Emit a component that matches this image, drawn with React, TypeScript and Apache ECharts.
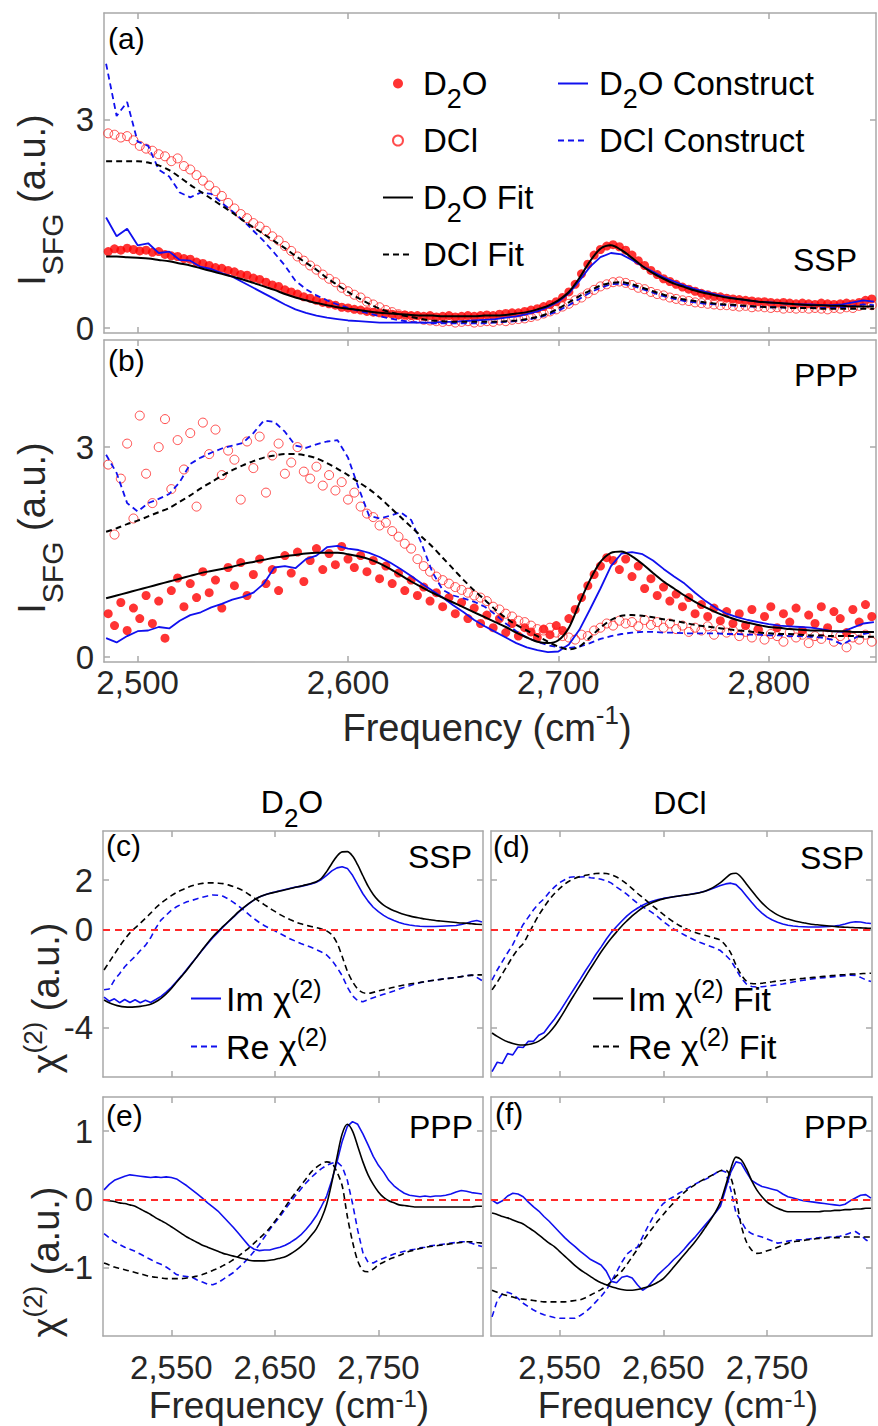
import React, { useEffect, useRef } from 'react';
import * as echarts from 'echarts';

// ---------- data ----------
const FREQ = [
  2485, 2490, 2495, 2500, 2505, 2510, 2515, 2520, 2525, 2530,
  2535, 2540, 2545, 2550, 2555, 2560, 2565, 2570, 2575, 2580,
  2585, 2590, 2595, 2600, 2605, 2610, 2615, 2620, 2625, 2630,
  2635, 2640, 2645, 2650, 2655, 2660, 2665, 2670, 2675, 2680,
  2685, 2690, 2695, 2700, 2705, 2710, 2715, 2720, 2725, 2730,
  2735, 2740, 2745, 2750, 2755, 2760, 2765, 2770, 2775, 2780,
  2785, 2790, 2795, 2800, 2805, 2810, 2815, 2820, 2825, 2830,
  2835, 2840, 2845, 2850,
];

const FREQ_PTS = [
  2486, 2489, 2492, 2495, 2498, 2501, 2504, 2507, 2510, 2513,
  2516, 2519, 2522, 2525, 2528, 2531, 2534, 2537, 2540, 2543,
  2546, 2549, 2552, 2555, 2558, 2561, 2564, 2567, 2570, 2573,
  2576, 2579, 2582, 2585, 2588, 2591, 2594, 2597, 2600, 2603,
  2606, 2609, 2612, 2615, 2618, 2621, 2624, 2627, 2630, 2633,
  2636, 2639, 2642, 2645, 2648, 2651, 2654, 2657, 2660, 2663,
  2666, 2669, 2672, 2675, 2678, 2681, 2684, 2687, 2690, 2693,
  2696, 2699, 2702, 2705, 2708, 2711, 2714, 2717, 2720, 2723,
  2726, 2729, 2732, 2735, 2738, 2741, 2744, 2747, 2750, 2753,
  2756, 2759, 2762, 2765, 2768, 2771, 2774, 2777, 2780, 2783,
  2786, 2789, 2792, 2795, 2798, 2801, 2804, 2807, 2810, 2813,
  2816, 2819, 2822, 2825, 2828, 2831, 2834, 2837, 2840, 2843,
  2846, 2849,
];

// (a) SSP intensity
const A_D2O_PTS = [
  1.10, 1.14, 1.12, 1.15, 1.13, 1.11, 1.12, 1.09, 1.10, 1.06,
  1.04, 1.03, 1.00, 0.99, 0.95, 0.93, 0.90, 0.87, 0.86, 0.83,
  0.81, 0.77, 0.76, 0.72, 0.70, 0.66, 0.62, 0.60, 0.55, 0.52,
  0.49, 0.45, 0.43, 0.40, 0.37, 0.35, 0.33, 0.30, 0.29, 0.27,
  0.26, 0.24, 0.23, 0.22, 0.21, 0.20, 0.19, 0.19, 0.18, 0.18,
  0.17, 0.18, 0.16, 0.17, 0.18, 0.16, 0.17, 0.18, 0.17, 0.18,
  0.19, 0.18, 0.20, 0.21, 0.22, 0.22, 0.24, 0.26, 0.28, 0.31,
  0.34, 0.38, 0.44, 0.52, 0.63, 0.78, 0.92, 1.05, 1.13, 1.18,
  1.20, 1.17, 1.12, 1.05, 0.97, 0.90, 0.83, 0.77, 0.71, 0.67,
  0.63, 0.59, 0.56, 0.53, 0.50, 0.48, 0.46, 0.45, 0.43, 0.42,
  0.41, 0.40, 0.39, 0.38, 0.38, 0.37, 0.36, 0.37, 0.36, 0.35,
  0.36, 0.35, 0.34, 0.36, 0.35, 0.34, 0.35, 0.36, 0.35, 0.37,
  0.40, 0.42,
];
const A_DCL_PTS = [
  2.80, 2.78, 2.74, 2.76, 2.70, 2.62, 2.58, 2.55, 2.50, 2.47,
  2.40, 2.44, 2.33, 2.28, 2.20, 2.12, 2.05, 1.97, 1.90, 1.80,
  1.72, 1.64, 1.58, 1.51, 1.46, 1.40, 1.32, 1.26, 1.18, 1.11,
  1.03, 0.97, 0.90, 0.84, 0.77, 0.71, 0.66, 0.58, 0.53, 0.48,
  0.44, 0.38, 0.34, 0.30, 0.26, 0.23, 0.20, 0.18, 0.16, 0.14,
  0.12, 0.11, 0.10, 0.09, 0.10, 0.08, 0.09, 0.10, 0.08, 0.09,
  0.10, 0.09, 0.11, 0.10, 0.12, 0.13, 0.14, 0.16, 0.18, 0.21,
  0.24, 0.27, 0.31, 0.35, 0.40, 0.44, 0.50, 0.55, 0.60, 0.63,
  0.66, 0.67, 0.65, 0.62, 0.58, 0.56, 0.52, 0.49, 0.47, 0.44,
  0.42, 0.40, 0.39, 0.37, 0.36, 0.35, 0.34, 0.33, 0.33, 0.32,
  0.31, 0.32, 0.30, 0.31, 0.30, 0.29, 0.30, 0.28, 0.29, 0.28,
  0.29, 0.28, 0.29, 0.28, 0.27, 0.29, 0.28, 0.30, 0.29, 0.32,
  0.35, 0.33,
];
const A_D2O_FIT = [
  1.03, 1.03, 1.02, 1.01, 1.00, 0.98, 0.96, 0.93, 0.90, 0.86,
  0.82, 0.78, 0.74, 0.70, 0.65, 0.60, 0.55, 0.49, 0.44, 0.40,
  0.36, 0.33, 0.30, 0.28, 0.26, 0.24, 0.22, 0.21, 0.20, 0.19,
  0.18, 0.18, 0.17, 0.17, 0.17, 0.17, 0.18, 0.18, 0.19, 0.21,
  0.23, 0.27, 0.32, 0.40, 0.52, 0.72, 0.96, 1.14, 1.19, 1.12,
  1.01, 0.89, 0.79, 0.71, 0.64, 0.59, 0.54, 0.50, 0.47, 0.44,
  0.42, 0.40, 0.38, 0.37, 0.36, 0.35, 0.34, 0.33, 0.33, 0.32,
  0.32, 0.31, 0.31, 0.31,
];
const A_DCL_FIT = [
  2.40, 2.40, 2.40, 2.40, 2.38, 2.34, 2.27, 2.17, 2.06, 1.96,
  1.86, 1.76, 1.66, 1.55, 1.45, 1.35, 1.25, 1.15, 1.04, 0.94,
  0.84, 0.72, 0.62, 0.52, 0.43, 0.35, 0.28, 0.23, 0.19, 0.16,
  0.13, 0.11, 0.10, 0.09, 0.09, 0.09, 0.09, 0.09, 0.10, 0.11,
  0.13, 0.16, 0.21, 0.28, 0.37, 0.46, 0.54, 0.61, 0.65, 0.66,
  0.63, 0.58, 0.53, 0.48, 0.44, 0.41, 0.39, 0.37, 0.35, 0.34,
  0.33, 0.32, 0.31, 0.30, 0.30, 0.29, 0.29, 0.29, 0.28, 0.28,
  0.28, 0.28, 0.28, 0.28,
];
const A_D2O_CON = [
  1.59, 1.32, 1.43, 1.19, 1.22, 1.08, 1.10, 0.98, 0.97, 0.88,
  0.85, 0.79, 0.74, 0.66, 0.58, 0.50, 0.42, 0.34, 0.27, 0.22,
  0.18, 0.15, 0.13, 0.11, 0.10, 0.09, 0.08, 0.08, 0.08, 0.08,
  0.08, 0.08, 0.09, 0.09, 0.10, 0.11, 0.12, 0.13, 0.15, 0.17,
  0.20, 0.24, 0.30, 0.38, 0.50, 0.68, 0.88, 1.02, 1.08, 1.06,
  0.98, 0.89, 0.81, 0.73, 0.67, 0.61, 0.56, 0.52, 0.48, 0.45,
  0.42, 0.40, 0.38, 0.37, 0.36, 0.35, 0.34, 0.34, 0.33, 0.33,
  0.34, 0.37, 0.40, 0.38,
];
const A_DCL_CON = [
  3.80, 3.05, 3.25, 2.68, 2.62, 2.28, 2.18, 1.95, 1.88, 1.95,
  1.93, 1.80, 1.68, 1.55, 1.40, 1.25, 1.08, 0.90, 0.68, 0.56,
  0.47, 0.40, 0.34, 0.29, 0.25, 0.21, 0.17, 0.14, 0.11, 0.09,
  0.08, 0.07, 0.07, 0.07, 0.07, 0.07, 0.07, 0.08, 0.09, 0.10,
  0.12, 0.15, 0.19, 0.25, 0.33, 0.42, 0.51, 0.58, 0.63, 0.64,
  0.61, 0.56, 0.51, 0.46, 0.42, 0.39, 0.37, 0.35, 0.34, 0.33,
  0.32, 0.31, 0.31, 0.30, 0.30, 0.29, 0.29, 0.29, 0.29, 0.29,
  0.30, 0.32, 0.34, 0.33,
];

// (b) PPP intensity
const B_D2O_PTS = [
  0.62, 0.45, 0.78, 0.38, 0.70, 0.55, 0.88, 0.48, 0.80, 0.27,
  0.95, 1.13, 0.72, 1.05, 0.85, 1.22, 0.92, 1.10, 0.70, 1.28,
  1.02, 1.35, 0.88, 1.18, 1.40, 1.05, 1.25, 0.95, 1.45, 1.20,
  1.50, 1.08, 1.38, 1.55, 1.25, 1.48, 1.32, 1.58, 1.40, 1.28,
  1.45, 1.22, 1.38, 1.12, 1.30, 1.05, 1.20, 0.95, 1.10, 0.88,
  1.00, 0.80, 0.92, 0.72, 0.85, 0.62, 0.78, 0.55, 0.70, 0.48,
  0.60, 0.42, 0.55, 0.35, 0.48, 0.30, 0.42, 0.36, 0.28, 0.40,
  0.32, 0.45, 0.38, 0.55, 0.68, 0.85, 1.02, 1.18, 1.30, 1.42,
  1.38, 1.25, 1.40, 1.15, 1.30, 0.98, 1.12, 0.88, 1.00, 0.80,
  0.90, 0.72, 0.85, 0.62, 0.75, 0.58, 0.70, 0.52, 0.65, 0.48,
  0.62, 0.45, 0.68, 0.40, 0.58, 0.72, 0.42, 0.62, 0.50, 0.70,
  0.38, 0.60, 0.48, 0.72, 0.42, 0.65, 0.55, 0.35, 0.68, 0.50,
  0.75, 0.58,
];
const B_DCL_PTS = [
  2.75, 1.75, 2.55, 3.05, 1.98, 3.45, 2.62, 2.20, 3.00, 3.40,
  2.40, 3.10, 2.68, 3.20, 2.15, 3.35, 2.90, 3.25, 2.60, 2.95,
  2.82, 2.25, 3.08, 2.70, 3.15, 2.35, 2.88, 3.05, 2.62, 2.78,
  3.00, 2.65, 2.55, 2.72, 2.45, 2.60, 2.38, 2.50, 2.25, 2.35,
  2.15, 2.05, 2.00, 1.88, 1.92, 1.80, 1.72, 1.62, 1.55, 1.40,
  1.30, 1.22, 1.15, 1.10, 1.05, 1.00, 0.96, 0.92, 0.88, 0.85,
  0.80, 0.72, 0.68, 0.62, 0.58, 0.52, 0.50, 0.45, 0.40, 0.38,
  0.42, 0.35, 0.30, 0.28, 0.25, 0.32, 0.30, 0.38, 0.42, 0.48,
  0.45, 0.52, 0.48, 0.50, 0.44, 0.53, 0.46, 0.50, 0.42, 0.48,
  0.40, 0.45, 0.36, 0.42, 0.38, 0.44, 0.32, 0.40, 0.35, 0.38,
  0.30, 0.36, 0.28, 0.38, 0.25, 0.33, 0.30, 0.22, 0.35, 0.28,
  0.32, 0.20, 0.30, 0.26, 0.35, 0.22, 0.30, 0.14, 0.28, 0.25,
  0.32, 0.22,
];
const B_D2O_FIT = [
  0.84, 0.88, 0.92, 0.96, 1.00, 1.04, 1.08, 1.12, 1.16, 1.20,
  1.23, 1.26, 1.29, 1.33, 1.36, 1.39, 1.42, 1.44, 1.46, 1.48,
  1.49, 1.49, 1.49, 1.47, 1.44, 1.40, 1.34, 1.26, 1.17, 1.08,
  1.00, 0.92, 0.85, 0.78, 0.71, 0.64, 0.57, 0.50, 0.43, 0.35,
  0.28, 0.22, 0.20, 0.24, 0.42, 0.77, 1.10, 1.36, 1.49, 1.51,
  1.44, 1.33, 1.20, 1.08, 0.98, 0.88, 0.79, 0.71, 0.64, 0.58,
  0.53, 0.49, 0.46, 0.43, 0.42, 0.40, 0.39, 0.38, 0.38, 0.37,
  0.37, 0.36, 0.36, 0.36,
];
const B_DCL_FIT = [
  1.79, 1.84, 1.90, 1.95, 2.01, 2.07, 2.13, 2.22, 2.31, 2.41,
  2.50, 2.59, 2.67, 2.74, 2.80, 2.85, 2.88, 2.90, 2.90, 2.88,
  2.84, 2.77, 2.69, 2.60, 2.50, 2.40, 2.28, 2.14, 2.00, 1.86,
  1.72, 1.58, 1.42, 1.26, 1.10, 0.95, 0.82, 0.68, 0.56, 0.46,
  0.38, 0.30, 0.22, 0.15, 0.11, 0.15, 0.28, 0.42, 0.53, 0.59,
  0.60, 0.59, 0.57, 0.54, 0.52, 0.49, 0.46, 0.44, 0.42, 0.40,
  0.38, 0.37, 0.35, 0.34, 0.33, 0.33, 0.32, 0.31, 0.31, 0.30,
  0.30, 0.30, 0.29, 0.29,
];
const B_D2O_CON = [
  0.27, 0.21, 0.30, 0.37, 0.38, 0.43, 0.41, 0.52, 0.60, 0.64,
  0.71, 0.76, 0.82, 0.86, 0.92, 1.05, 1.28, 1.30, 1.27, 1.40,
  1.45, 1.57, 1.59, 1.55, 1.53, 1.49, 1.43, 1.35, 1.26, 1.16,
  1.05, 0.95, 0.85, 0.74, 0.64, 0.53, 0.44, 0.36, 0.28, 0.20,
  0.14, 0.10, 0.07, 0.08, 0.18, 0.39, 0.68, 0.98, 1.30, 1.48,
  1.50, 1.47, 1.38, 1.26, 1.15, 1.05, 0.92, 0.80, 0.70, 0.62,
  0.57, 0.53, 0.50, 0.47, 0.45, 0.44, 0.43, 0.42, 0.40, 0.37,
  0.36, 0.42, 0.48, 0.50,
];
const B_DCL_CON = [
  2.89, 2.63, 2.20, 2.08, 2.20, 2.26, 2.33, 2.50, 2.76, 2.85,
  2.92, 2.98, 3.02, 3.06, 3.20, 3.38, 3.36, 3.22, 3.02, 2.99,
  3.04, 3.08, 3.10, 2.85, 2.42, 2.02, 1.98, 2.02, 2.07, 1.96,
  1.62, 1.22, 0.96, 0.88, 0.84, 0.79, 0.72, 0.61, 0.48, 0.37,
  0.28, 0.22, 0.17, 0.14, 0.13, 0.15, 0.20, 0.26, 0.30, 0.33,
  0.35, 0.36, 0.36, 0.35, 0.35, 0.34, 0.34, 0.34, 0.34, 0.33,
  0.33, 0.32, 0.32, 0.31, 0.31, 0.30, 0.30, 0.29, 0.28, 0.25,
  0.18, 0.26, 0.33, 0.36,
];

// (c) D2O SSP chi(2)
const C_IM = [
  -2.75, -2.92, -2.82, -2.98, -2.85, -2.97, -2.86, -2.98, -2.88, -2.97,
  -2.85, -2.72, -2.55, -2.35, -2.12, -1.88, -1.62, -1.36, -1.10, -0.84,
  -0.58, -0.34, -0.12, 0.10, 0.30, 0.50, 0.70, 0.88, 1.05, 1.20,
  1.32, 1.40, 1.47, 1.52, 1.57, 1.62, 1.67, 1.72, 1.75, 1.80,
  1.85, 1.92, 2.03, 2.20, 2.38, 2.50, 2.55, 2.48, 2.20, 1.82,
  1.45, 1.15, 0.90, 0.72, 0.57, 0.45, 0.36, 0.28, 0.22, 0.18,
  0.15, 0.13, 0.12, 0.12, 0.12, 0.13, 0.14, 0.15, 0.16, 0.20,
  0.25, 0.32, 0.36, 0.30,
];
const C_RE = [
  -2.45, -2.42, -2.06, -1.80, -1.52, -1.30, -1.10, -0.86, -0.65, -0.34,
  0.05, 0.38, 0.58, 0.78, 0.92, 1.03, 1.12, 1.18, 1.25, 1.31,
  1.36, 1.40, 1.39, 1.35, 1.24, 1.10, 0.95, 0.78, 0.60, 0.43,
  0.28, 0.15, 0.04, -0.06, -0.17, -0.28, -0.39, -0.48, -0.57, -0.65,
  -0.73, -0.82, -0.92, -1.04, -1.25, -1.55, -1.88, -2.35, -2.70, -2.90,
  -2.94, -2.86, -2.78, -2.71, -2.64, -2.57, -2.50, -2.42, -2.35, -2.29,
  -2.22, -2.17, -2.12, -2.09, -2.06, -2.03, -2.00, -1.98, -1.95, -1.92,
  -1.88, -1.86, -1.95, -2.08,
];
const C_IM_FIT = [
  -2.87, -2.98, -3.06, -3.12, -3.15, -3.16, -3.15, -3.13, -3.09, -3.04,
  -2.94, -2.80, -2.62, -2.40, -2.15, -1.90, -1.65, -1.38, -1.10, -0.82,
  -0.55, -0.30, -0.08, 0.12, 0.32, 0.52, 0.72, 0.90, 1.06, 1.20,
  1.32, 1.40, 1.46, 1.51, 1.56, 1.61, 1.66, 1.71, 1.76, 1.81,
  1.87, 1.94, 2.08, 2.35, 2.68, 2.98, 3.15, 3.16, 2.98, 2.62,
  2.18, 1.76, 1.42, 1.17, 0.99, 0.86, 0.76, 0.68, 0.61, 0.55,
  0.50, 0.46, 0.42, 0.39, 0.36, 0.34, 0.32, 0.30, 0.28, 0.26,
  0.25, 0.23, 0.21, 0.20,
];
const C_RE_FIT = [
  -1.65, -1.33, -1.01, -0.69, -0.40, -0.14, 0.06, 0.25, 0.45, 0.66,
  0.88, 1.06, 1.22, 1.37, 1.50, 1.60, 1.69, 1.77, 1.83, 1.87,
  1.89, 1.89, 1.88, 1.86, 1.81, 1.74, 1.66, 1.56, 1.42, 1.28,
  1.14, 1.00, 0.86, 0.73, 0.60, 0.49, 0.39, 0.30, 0.23, 0.17,
  0.12, 0.07, 0.02, -0.06, -0.22, -0.55, -1.10, -1.70, -2.12, -2.42,
  -2.57, -2.60, -2.56, -2.50, -2.45, -2.40, -2.35, -2.30, -2.26, -2.22,
  -2.19, -2.16, -2.12, -2.09, -2.06, -2.03, -2.00, -1.98, -1.95, -1.92,
  -1.89, -1.86, -1.85, -1.85,
];

// (d) DCl SSP chi(2)
const D_IM = [
  -5.78, -5.40, -5.45, -5.05, -5.10, -4.78, -4.80, -4.55, -4.55, -4.30,
  -4.20, -3.92, -3.65, -3.35, -3.02, -2.68, -2.35, -2.02, -1.68, -1.36,
  -1.02, -0.72, -0.40, -0.12, 0.12, 0.34, 0.55, 0.72, 0.86, 0.98,
  1.08, 1.15, 1.21, 1.26, 1.30, 1.33, 1.36, 1.39, 1.42, 1.46,
  1.50, 1.55, 1.62, 1.70, 1.78, 1.85, 1.88, 1.82, 1.62, 1.36,
  1.10, 0.86, 0.66, 0.50, 0.38, 0.29, 0.22, 0.17, 0.14, 0.12,
  0.11, 0.10, 0.10, 0.10, 0.11, 0.12, 0.14, 0.17, 0.22, 0.28,
  0.31, 0.30, 0.26, 0.24,
];
const D_RE = [
  -2.06, -1.65, -1.30, -0.95, -0.62, -0.18, 0.20, 0.50, 0.80, 1.05,
  1.24, 1.50, 1.72, 1.90, 2.02, 2.12, 2.14, 2.13, 2.14, 2.10,
  2.08, 2.04, 1.98, 1.88, 1.72, 1.58, 1.42, 1.24, 1.07, 0.92,
  0.80, 0.66, 0.50, 0.32, 0.16, 0.02, -0.10, -0.22, -0.33, -0.43,
  -0.52, -0.60, -0.68, -0.76, -0.86, -1.05, -1.26, -1.62, -1.98, -2.22,
  -2.32, -2.34, -2.33, -2.31, -2.28, -2.25, -2.22, -2.18, -2.14, -2.10,
  -2.07, -2.03, -2.00, -1.98, -1.96, -1.94, -1.92, -1.90, -1.88, -1.86,
  -1.87, -1.95, -2.05, -2.12,
];
const D_IM_FIT = [
  -4.21, -4.35, -4.47, -4.57, -4.64, -4.69, -4.70, -4.68, -4.63, -4.54,
  -4.40, -4.20, -3.95, -3.64, -3.30, -2.94, -2.60, -2.26, -1.92, -1.58,
  -1.25, -0.92, -0.62, -0.35, -0.10, 0.14, 0.35, 0.55, 0.72, 0.88,
  1.00, 1.10, 1.18, 1.24, 1.29, 1.33, 1.36, 1.39, 1.42, 1.45,
  1.49, 1.55, 1.64, 1.76, 1.90, 2.08, 2.25, 2.28, 2.12, 1.85,
  1.58, 1.32, 1.08, 0.88, 0.72, 0.59, 0.49, 0.42, 0.36, 0.31,
  0.27, 0.23, 0.20, 0.18, 0.16, 0.14, 0.12, 0.10, 0.09, 0.08,
  0.07, 0.06, 0.05, 0.04,
];
const D_RE_FIT = [
  -2.46, -2.15, -1.80, -1.45, -1.10, -0.80, -0.58, -0.20, 0.20, 0.58,
  0.90, 1.20, 1.45, 1.66, 1.84, 1.98, 2.08, 2.15, 2.20, 2.24,
  2.27, 2.28, 2.27, 2.22, 2.13, 2.00, 1.84, 1.66, 1.47, 1.30,
  1.12, 0.95, 0.78, 0.61, 0.45, 0.30, 0.17, 0.06, -0.04, -0.11,
  -0.18, -0.24, -0.30, -0.36, -0.44, -0.65, -0.96, -1.45, -1.84, -2.10,
  -2.20, -2.21, -2.19, -2.16, -2.13, -2.10, -2.08, -2.06, -2.04, -2.01,
  -1.99, -1.97, -1.95, -1.93, -1.91, -1.89, -1.87, -1.85, -1.84, -1.82,
  -1.81, -1.80, -1.79, -1.78,
];

// (e) D2O PPP chi(2)
const E_IM = [
  0.14, 0.22, 0.28, 0.31, 0.34, 0.36, 0.35, 0.34, 0.33, 0.32,
  0.33, 0.32, 0.33, 0.32, 0.30, 0.25, 0.20, 0.14, 0.08, 0.02,
  -0.05, -0.11, -0.17, -0.25, -0.33, -0.41, -0.50, -0.59, -0.68, -0.73,
  -0.75, -0.74, -0.74, -0.72, -0.70, -0.67, -0.63, -0.58, -0.52, -0.44,
  -0.35, -0.24, -0.10, 0.05, 0.28, 0.55, 0.85, 1.07, 1.14, 1.10,
  0.96, 0.80, 0.63, 0.50, 0.40, 0.28, 0.20, 0.14, 0.09, 0.06,
  0.05, 0.04, 0.05, 0.04, 0.05, 0.05, 0.06, 0.08, 0.11, 0.13,
  0.12, 0.10, 0.09, 0.08,
];
const E_RE = [
  -0.50, -0.56, -0.62, -0.66, -0.70, -0.73, -0.76, -0.80, -0.84, -0.88,
  -0.92, -0.95, -0.99, -1.04, -1.10, -1.12, -1.13, -1.14, -1.18, -1.21,
  -1.24, -1.25, -1.22, -1.17, -1.12, -1.07, -1.00, -0.93, -0.85, -0.76,
  -0.66, -0.55, -0.44, -0.34, -0.25, -0.14, -0.04, 0.06, 0.15, 0.24,
  0.32, 0.39, 0.45, 0.50, 0.53, 0.55, 0.48, 0.28, -0.06, -0.45,
  -0.78, -0.92, -0.93, -0.89, -0.86, -0.83, -0.80, -0.78, -0.76, -0.74,
  -0.73, -0.71, -0.70, -0.68, -0.67, -0.66, -0.65, -0.64, -0.63, -0.62,
  -0.62, -0.64, -0.67, -0.69,
];
const E_IM_FIT = [
  -0.01, -0.02, -0.03, -0.05, -0.06, -0.08, -0.10, -0.14, -0.18, -0.22,
  -0.27, -0.31, -0.35, -0.40, -0.45, -0.50, -0.55, -0.59, -0.63, -0.67,
  -0.70, -0.73, -0.76, -0.79, -0.81, -0.83, -0.85, -0.87, -0.89, -0.90,
  -0.90, -0.90, -0.89, -0.88, -0.86, -0.84, -0.80, -0.75, -0.69, -0.62,
  -0.53, -0.43, -0.28, -0.07, 0.25, 0.62, 0.96, 1.10, 1.00, 0.78,
  0.55, 0.36, 0.22, 0.11, 0.03, -0.02, -0.05, -0.08, -0.09, -0.10,
  -0.11, -0.11, -0.11, -0.11, -0.11, -0.11, -0.11, -0.11, -0.11, -0.11,
  -0.11, -0.11, -0.10, -0.10,
];
const E_RE_FIT = [
  -0.93, -0.96, -0.99, -1.01, -1.03, -1.05, -1.07, -1.09, -1.11, -1.13,
  -1.14, -1.15, -1.16, -1.16, -1.16, -1.16, -1.15, -1.14, -1.12, -1.10,
  -1.07, -1.04, -1.01, -0.97, -0.93, -0.88, -0.83, -0.77, -0.71, -0.64,
  -0.57, -0.50, -0.42, -0.32, -0.22, -0.11, 0.00, 0.10, 0.20, 0.30,
  0.40, 0.47, 0.52, 0.55, 0.53, 0.40, 0.20, -0.25, -0.62, -0.90,
  -1.04, -1.06, -1.02, -0.96, -0.92, -0.88, -0.85, -0.82, -0.79, -0.76,
  -0.74, -0.72, -0.70, -0.69, -0.68, -0.67, -0.66, -0.65, -0.64, -0.63,
  -0.62, -0.62, -0.63, -0.64,
];

// (f) DCl PPP chi(2)
const F_IM = [
  -0.01, -0.06, -0.02, 0.05, 0.09, 0.08, 0.04, -0.04, -0.11, -0.17,
  -0.25, -0.32, -0.40, -0.48, -0.56, -0.63, -0.69, -0.76, -0.82, -0.88,
  -0.92, -0.96, -1.05, -1.20, -1.22, -1.14, -1.12, -1.15, -1.25, -1.33,
  -1.28, -1.19, -1.10, -1.03, -0.96, -0.88, -0.81, -0.73, -0.64, -0.56,
  -0.47, -0.38, -0.29, -0.20, -0.10, 0.15, 0.40, 0.55, 0.53, 0.40,
  0.28, 0.23, 0.19, 0.17, 0.15, 0.13, 0.08, 0.04, 0.02, 0.00,
  -0.02, -0.03, -0.04, -0.05, -0.06, -0.07, -0.08, -0.09, -0.07, -0.02,
  0.02, 0.06, 0.07, 0.02,
];
const F_RE = [
  -1.72, -1.48, -1.38, -1.36, -1.39, -1.45, -1.52, -1.57, -1.62, -1.66,
  -1.69, -1.71, -1.73, -1.74, -1.74, -1.74, -1.74, -1.70, -1.65, -1.58,
  -1.50, -1.42, -1.33, -1.20, -1.06, -0.92, -0.80, -0.74, -0.70, -0.55,
  -0.40, -0.26, -0.15, -0.06, 0.00, 0.04, 0.09, 0.13, 0.18, 0.22,
  0.26, 0.29, 0.33, 0.38, 0.43, 0.40, 0.14, -0.20, -0.32, -0.45,
  -0.50, -0.53, -0.55, -0.58, -0.61, -0.64, -0.63, -0.61, -0.60, -0.59,
  -0.59, -0.58, -0.57, -0.56, -0.56, -0.55, -0.55, -0.54, -0.52, -0.49,
  -0.47, -0.52, -0.59, -0.64,
];
const F_IM_FIT = [
  -0.20, -0.22, -0.25, -0.27, -0.30, -0.33, -0.36, -0.41, -0.46, -0.52,
  -0.58, -0.64, -0.69, -0.76, -0.83, -0.90, -0.97, -1.03, -1.08, -1.13,
  -1.18, -1.22, -1.25, -1.28, -1.30, -1.32, -1.33, -1.33, -1.32, -1.30,
  -1.28, -1.25, -1.21, -1.16, -1.08, -0.99, -0.90, -0.81, -0.72, -0.63,
  -0.53, -0.42, -0.31, -0.19, -0.04, 0.20, 0.45, 0.62, 0.58, 0.45,
  0.28, 0.14, 0.04, -0.04, -0.09, -0.13, -0.16, -0.18, -0.18, -0.18,
  -0.18, -0.18, -0.18, -0.18, -0.17, -0.17, -0.16, -0.16, -0.15, -0.15,
  -0.14, -0.14, -0.13, -0.13,
];
const F_RE_FIT = [
  -1.33, -1.36, -1.39, -1.41, -1.43, -1.45, -1.46, -1.47, -1.48, -1.49,
  -1.50, -1.50, -1.50, -1.50, -1.50, -1.49, -1.48, -1.47, -1.44, -1.40,
  -1.36, -1.32, -1.27, -1.20, -1.12, -1.05, -0.95, -0.84, -0.73, -0.62,
  -0.51, -0.41, -0.31, -0.22, -0.13, -0.05, 0.03, 0.10, 0.16, 0.21,
  0.26, 0.30, 0.34, 0.38, 0.42, 0.43, 0.32, 0.02, -0.38, -0.62,
  -0.74, -0.79, -0.78, -0.75, -0.73, -0.70, -0.67, -0.64, -0.62, -0.61,
  -0.60, -0.59, -0.58, -0.57, -0.57, -0.56, -0.56, -0.56, -0.55, -0.55,
  -0.55, -0.55, -0.55, -0.55,
];

// ticks
const X_TICKS_TOP = [2500, 2600, 2700, 2800];
const X_TICKS_BOTTOM = [2550, 2650, 2750];
const Y_TICKS_I = [0, 3];
const Y_TICKS_SSP = [-4, 0, 2];
const Y_TICKS_PPP = [-1, 0, 1];

// ---------- styling ----------
const FONT = '"Liberation Sans", Arial, Helvetica, sans-serif';
const BOX = '#a8a8a8';
const TXT = '#262626';
const RED = '#ff0000';
const BLUE = '#1010ee';
const BLACK = '#000000';
const X_MIN = 2484;
const X_MAX = 2851;

const pair = (xs: number[], ys: number[]) => xs.map((x, i) => [x, ys[i]]);
const thousands = (v: number) => {
  const s = String(Math.round(v));
  return s.length > 3 ? s.slice(0, s.length - 3) + ',' + s.slice(-3) : s;
};

const GRIDS = [
  { left: 104, top: 13, width: 772, height: 320 },
  { left: 104, top: 340, width: 772, height: 322 },
  { left: 103, top: 831, width: 380, height: 246 },
  { left: 491, top: 831, width: 381, height: 246 },
  { left: 103, top: 1097, width: 380, height: 239 },
  { left: 491, top: 1097, width: 381, height: 239 },
];

const axisLineStyle = { show: true, onZero: false, lineStyle: { color: BOX, width: 1.5 } };
const tickStyle = (vals: number[]) => ({ show: true, inside: true, length: 6, customValues: vals, lineStyle: { color: BOX, width: 1.5 } });

function xAxesFor(g: number, ticks: number[], labels: boolean, margin: number, lineHeight?: number) {
  const base = { type: 'value', gridIndex: g, min: X_MIN, max: X_MAX, splitLine: { show: false }, axisLine: axisLineStyle, axisTick: tickStyle(ticks) };
  const label: any = { show: labels, customValues: ticks, formatter: thousands, fontSize: 33, color: TXT, fontFamily: FONT, margin };
  if (lineHeight) label.lineHeight = lineHeight;
  return [
    { ...base, position: 'bottom', axisLabel: label },
    { ...base, position: 'top', axisLabel: { show: false } },
  ];
}
function yAxesFor(g: number, min: number, max: number, ticks: number[], labels: boolean) {
  const base = { type: 'value', gridIndex: g, min, max, splitLine: { show: false }, axisLine: axisLineStyle, axisTick: tickStyle(ticks) };
  return [
    { ...base, position: 'left', axisLabel: { show: labels, customValues: ticks, fontSize: 33, color: TXT, fontFamily: FONT, margin: 10 } },
    { ...base, position: 'right', axisLabel: { show: false } },
  ];
}

const lineS = (name: string, g: number, ys: number[], color: string, dashed: boolean, width: number, smooth = 0) => ({
  type: 'line', name, xAxisIndex: 2 * g, yAxisIndex: 2 * g, data: pair(FREQ, ys),
  symbol: 'none', showSymbol: false, smooth, silent: true,
  lineStyle: { color, width, type: dashed ? [6, 4] : 'solid' }, itemStyle: { color }, z: 3,
});
const zeroLine = {
  silent: true, symbol: ['none', 'none'], label: { show: false },
  lineStyle: { color: '#ff2a2a', type: [7, 5], width: 2 }, data: [{ yAxis: 0 }],
};
const ptsS = (name: string, g: number, ys: number[], filled: boolean) => ({
  type: 'scatter', name, xAxisIndex: 2 * g, yAxisIndex: 2 * g, data: pair(FREQ_PTS, ys),
  symbol: 'circle', symbolSize: 9, silent: true, z: 2,
  itemStyle: filled ? { color: RED } : { color: 'rgba(255,255,255,0)', borderColor: '#ff2020', borderWidth: 1 },
});
const chiPanel = (g: number, im: number[], re: number[], imFit: number[], reFit: number[]) => [
  lineS('Im χ(2)', g, im, BLUE, false, 1.6),
  lineS('Re χ(2)', g, re, BLUE, true, 1.6),
  lineS('Im χ(2) Fit', g, imFit, BLACK, false, 1.6, 0.3),
  { ...lineS('Re χ(2) Fit', g, reFit, BLACK, true, 1.6, 0.3), markLine: zeroLine },
];

const legendText = (size: number, subPad: number, supPad: number, leftPad: number) => ({
  fontSize: size, fontFamily: FONT, color: '#000', lineHeight: size + 2, padding: [0, 0, 0, leftPad],
  rich: {
    sub: { fontSize: size - 6, fontFamily: FONT, color: '#000', lineHeight: 18, padding: [subPad, 0, 0, 0] },
    sup: { fontSize: size - 9, fontFamily: FONT, color: '#000', lineHeight: 18, padding: [0, 0, supPad, 0] },
  },
});
const fmtLegend = (name: string) => name.replace('D2O', 'D{sub|2}O').replace('(2)', '{sup|(2)}');
// legend entries for line series: hide the marker drawn in the middle of the line icon
const lineItem = (name: string) => ({ name, itemStyle: { opacity: 0 } });

const txt = (x: number, y: number, text: string, size: number, align = 'left', extra: any = {}) => ({
  type: 'text', x, y, silent: true,
  style: { text, fontSize: size, fontFamily: FONT, fill: '#000', align, verticalAlign: 'middle', ...extra },
});
const richTitle = (x: number, y: number, text: string, rotate: boolean, lh = 44, supPad = 26, size = 38, supSize = 26) => ({
  type: 'text', x, y, silent: true, rotation: rotate ? Math.PI / 2 : 0,
  style: {
    text, fontSize: size, fontFamily: FONT, fill: TXT, align: 'center', verticalAlign: 'middle', lineHeight: lh,
    rich: {
      sub: { fontSize: 30, fontFamily: FONT, fill: TXT, lineHeight: 20, padding: [40, 0, 0, 0] },
      sup: { fontSize: supSize, fontFamily: FONT, fill: TXT, lineHeight: 20, padding: [0, 0, supPad, 0] },
    },
  },
});

export default function App() {
  const ref = useRef<HTMLDivElement>(null);
  useEffect(() => {
    if (!ref.current) return;
    const chart = echarts.init(ref.current, null, { renderer: 'svg' });
    const option: any = {
      animation: false,
      backgroundColor: '#ffffff',
      grid: GRIDS.map((g) => ({ ...g, containLabel: false, show: false })),
      xAxis: [
        ...xAxesFor(0, X_TICKS_TOP, false, 8),
        ...xAxesFor(1, X_TICKS_TOP, true, 4),
        ...xAxesFor(2, X_TICKS_BOTTOM, false, 8),
        ...xAxesFor(3, X_TICKS_BOTTOM, false, 8),
        ...xAxesFor(4, X_TICKS_BOTTOM, true, 18, 26),
        ...xAxesFor(5, X_TICKS_BOTTOM, true, 18, 26),
      ],
      yAxis: [
        ...yAxesFor(0, -0.07, 4.53, Y_TICKS_I, true),
        ...yAxesFor(1, -0.07, 4.53, Y_TICKS_I, true),
        ...yAxesFor(2, -6, 4, Y_TICKS_SSP, true),
        ...yAxesFor(3, -6, 4, Y_TICKS_SSP, false),
        ...yAxesFor(4, -2, 1.5, Y_TICKS_PPP, true),
        ...yAxesFor(5, -2, 1.5, Y_TICKS_PPP, false),
      ],
      legend: [
        { data: ['D2O', 'DCl', lineItem('D2O Fit'), lineItem('DCl Fit')], orient: 'vertical', left: 382, top: 55, padding: 0, itemWidth: 30, itemHeight: 10, itemGap: 11, selectedMode: false, formatter: fmtLegend, textStyle: legendText(33, 30, 0, 5) },
        { data: [lineItem('D2O Construct'), lineItem('DCl Construct')], orient: 'vertical', left: 557, top: 55, padding: 0, itemWidth: 30, itemHeight: 10, itemGap: 11, selectedMode: false, formatter: fmtLegend, textStyle: legendText(33, 30, 0, 6) },
        { data: [lineItem('Im χ(2)'), lineItem('Re χ(2)')], orient: 'vertical', left: 190, top: 976, padding: 0, itemWidth: 30, itemHeight: 10, itemGap: 3, selectedMode: false, formatter: fmtLegend, textStyle: legendText(34, 0, 20, 0) },
        { data: [lineItem('Im χ(2) Fit'), lineItem('Re χ(2) Fit')], orient: 'vertical', left: 592, top: 976, padding: 0, itemWidth: 30, itemHeight: 10, itemGap: 3, selectedMode: false, formatter: fmtLegend, textStyle: legendText(34, 0, 20, 0) },
      ],
      series: [
        ptsS('D2O', 0, A_D2O_PTS, true),
        ptsS('DCl', 0, A_DCL_PTS, false),
        lineS('D2O Construct', 0, A_D2O_CON, BLUE, false, 1.8),
        lineS('DCl Construct', 0, A_DCL_CON, BLUE, true, 1.8),
        lineS('D2O Fit', 0, A_D2O_FIT, BLACK, false, 2, 0.3),
        lineS('DCl Fit', 0, A_DCL_FIT, BLACK, true, 2, 0.3),
        ptsS('D2O', 1, B_D2O_PTS, true),
        ptsS('DCl', 1, B_DCL_PTS, false),
        lineS('D2O Construct', 1, B_D2O_CON, BLUE, false, 1.8),
        lineS('DCl Construct', 1, B_DCL_CON, BLUE, true, 1.8),
        lineS('D2O Fit', 1, B_D2O_FIT, BLACK, false, 2, 0.3),
        lineS('DCl Fit', 1, B_DCL_FIT, BLACK, true, 2, 0.3),
        ...chiPanel(2, C_IM, C_RE, C_IM_FIT, C_RE_FIT),
        ...chiPanel(3, D_IM, D_RE, D_IM_FIT, D_RE_FIT),
        ...chiPanel(4, E_IM, E_RE, E_IM_FIT, E_RE_FIT),
        ...chiPanel(5, F_IM, F_RE, F_IM_FIT, F_RE_FIT),
      ],
      graphic: [
        txt(108, 38, '(a)', 30),
        txt(857, 260, 'SSP', 32, 'right'),
        txt(108, 360, '(b)', 30),
        txt(858, 375, 'PPP', 32, 'right'),
        txt(106, 845, '(c)', 30),
        txt(472, 857, 'SSP', 32, 'right'),
        txt(493, 846, '(d)', 30),
        txt(864, 858, 'SSP', 32, 'right'),
        txt(106, 1115, '(e)', 30),
        txt(473, 1127, 'PPP', 32, 'right'),
        txt(495, 1113, '(f)', 30),
        txt(868, 1127, 'PPP', 32, 'right'),
        richTitle(32, 200, 'I{sub|SFG} (a.u.)', true),
        richTitle(32, 528, 'I{sub|SFG} (a.u.)', true),
        richTitle(46, 998, 'χ{sup|(2)} (a.u.)', true),
        richTitle(46, 1262, 'χ{sup|(2)} (a.u.)', true),
        richTitle(487, 728, 'Frequency (cm{sup|-1})', false),
        richTitle(289, 1405, 'Frequency (cm{sup|-1})', false, 30, 14, 37, 24),
        richTitle(678, 1405, 'Frequency (cm{sup|-1})', false, 30, 14, 37, 24),
        txt(292, 802, 'D{sub|2}O', 32, 'center', { rich: { sub: { fontSize: 26, fontFamily: FONT, fill: '#000', lineHeight: 18, padding: [32, 0, 0, 0] } } }),
        txt(680, 803, 'DCl', 32, 'center'),
      ],
    };
    chart.setOption(option);
    return () => chart.dispose();
  }, []);
  return <div ref={ref} style={{ position: 'absolute', left: 0, top: 0, width: 878, height: 1426 }} />;
}
